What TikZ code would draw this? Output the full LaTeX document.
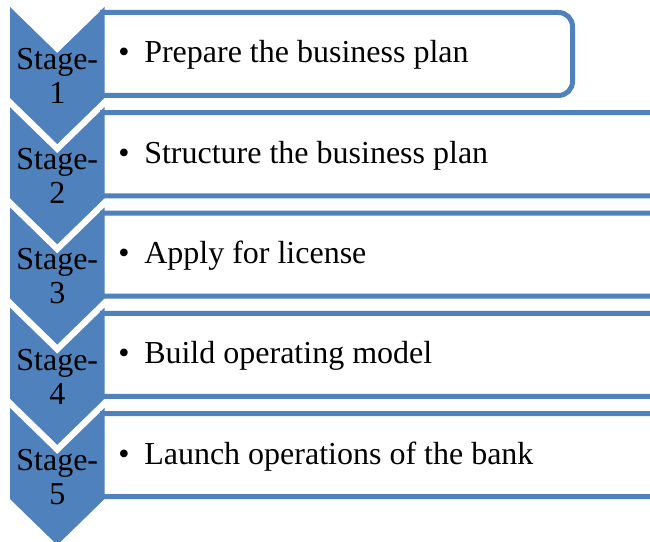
\documentclass[tikz,border=0pt]{standalone}
\usepackage{fontspec}
\setmainfont{Liberation Serif}
\definecolor{stageblue}{HTML}{4F81BD}
\tikzstyle{chevron}=[
        fill=stageblue,
        draw=none
]
\tikzstyle{stagebox}=[
        draw=stageblue,
        fill=white,
        line width=3.75pt,
        rounded corners=10.5pt
]
\tikzstyle{stagelabel}=[
        align=center,
        inner sep=0pt,
        font=\fontsize{24}{25.5}\selectfont
]
\tikzstyle{tasklabel}=[
        anchor=base west,
        inner sep=0pt,
        font=\fontsize{24}{28}\selectfont
]

\begin{document}
\begin{tikzpicture}[x=0.75pt,y=-0.75pt]
                    \useasboundingbox (0,0) rectangle (650,542);
                    \clip (0,0) rectangle (650,542);

                    % boxes, the left side is under the chevrons
                    \draw[stagebox] (100,12.5) -- (572.5,12.5) -- (572.5,95.5) -- (100,95.5);
                    \foreach \i in {1,...,4} {
                        \draw[stagebox] (100,12.5+100.25*\i) -- (700,12.5+100.25*\i)
                            -- (700,95.5+100.25*\i) -- (100,95.5+100.25*\i);
                    }

                    % chevrons
                    \foreach \i in {0,...,4} {
                        \fill[chevron] (10,7+100.25*\i) -- (57.25,53+100.25*\i) -- (104.5,7+100.25*\i)
                            -- (104.5,98+100.25*\i) -- (57.25,144+100.25*\i) -- (10,98+100.25*\i) -- cycle;
                    }

                    \foreach \i/\task in {1/Prepare the business plan,
                                          2/Structure the business plan,
                                          3/Apply for license,
                                          4/Build operating model,
                                          5/Launch operations of the bank} {
                        \node[stagelabel] (stage\i) at (57.25,76+100.25*\i-100.25) {Stage-\\\i};
                        \node[tasklabel] (task\i) at (118,63+100.25*\i-100.25) {\makebox[19.5pt][l]{\textbullet}\task};
                    }

                \end{tikzpicture}
\end{document}
